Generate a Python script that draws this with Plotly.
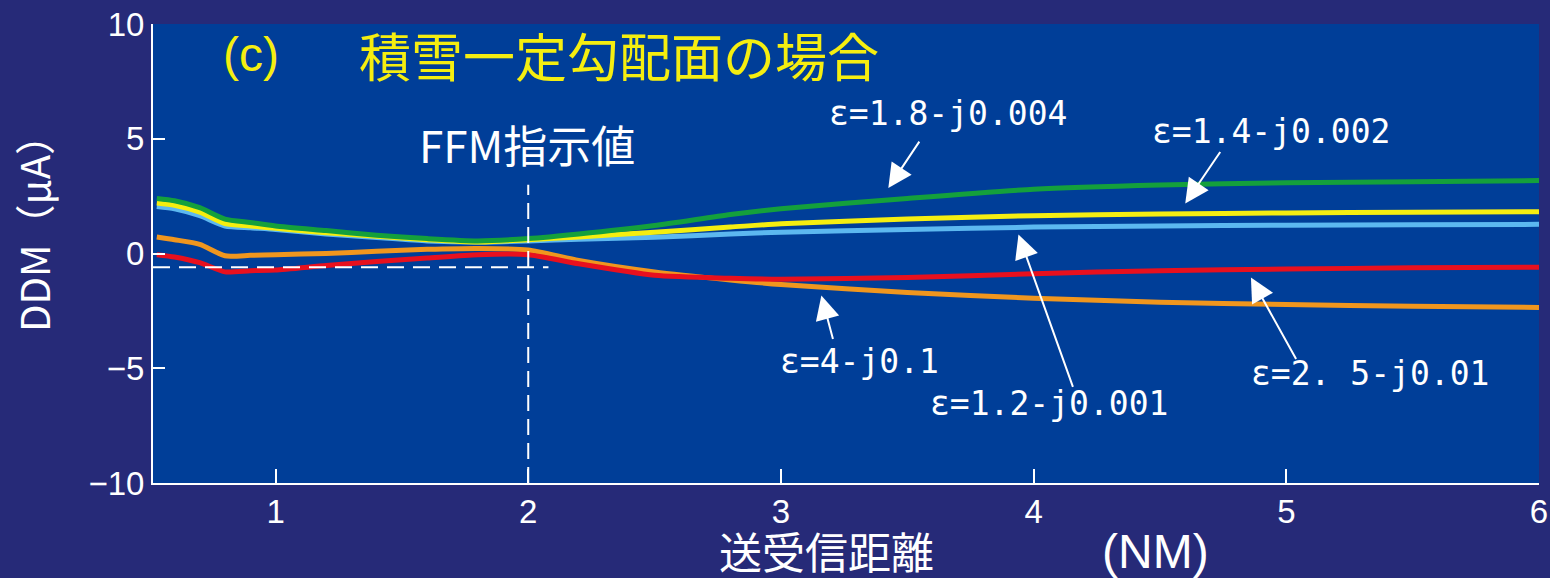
import plotly.graph_objects as go

# Distance between transmitter and receiver (NM)
distance = [0.53, 0.6, 0.7, 0.8, 0.9, 1.0, 1.2, 1.4, 1.6, 1.8, 2.0, 2.2, 2.5, 2.8,
            3.0, 3.5, 4.0, 4.5, 5.0, 5.5, 6.0]

# DDM (uA) for each snow permittivity
ddm_eps_1_8 = [2.4, 2.3, 2.0, 1.5, 1.35, 1.2, 1.0, 0.8, 0.65, 0.55, 0.65, 0.85, 1.22, 1.7,
               1.95, 2.4, 2.8, 2.98, 3.08, 3.13, 3.18]
ddm_eps_1_4 = [2.2, 2.1, 1.8, 1.3, 1.2, 1.1, 0.9, 0.75, 0.6, 0.5, 0.6, 0.72, 0.93, 1.15,
               1.3, 1.5, 1.65, 1.72, 1.77, 1.8, 1.82]
ddm_eps_1_2 = [2.05, 1.95, 1.65, 1.2, 1.12, 1.05, 0.85, 0.7, 0.55, 0.5, 0.55, 0.62, 0.71, 0.85,
               0.93, 1.05, 1.15, 1.2, 1.23, 1.25, 1.27]
ddm_eps_2_5 = [-0.05, -0.15, -0.4, -0.8, -0.75, -0.72, -0.52, -0.35, -0.2, -0.05, -0.05, -0.45, -0.95, -1.08,
               -1.12, -1.05, -0.88, -0.75, -0.68, -0.62, -0.6]
ddm_eps_4 = [0.72, 0.6, 0.4, -0.1, -0.08, -0.05, 0.0, 0.1, 0.18, 0.22, 0.15, -0.3, -0.8, -1.15,
             -1.35, -1.7, -1.95, -2.12, -2.22, -2.3, -2.35]

series_names = ["ε=4-j0.1", "ε=2.5-j0.01", "ε=1.2-j0.001", "ε=1.4-j0.002", "ε=1.8-j0.004"]
series_values = [ddm_eps_4, ddm_eps_2_5, ddm_eps_1_2, ddm_eps_1_4, ddm_eps_1_8]
series_colors = ["#F0961E", "#E8101E", "#5CB8F0", "#F5EE10", "#14A03C"]

# FFM indicated value marker
ffm_distance = 2.0
ffm_ddm = -0.6
ffm_top = 3.0
ffm_right = 2.08

x_ticks = [1, 2, 3, 4, 5, 6]
y_ticks = [-10, -5, 0, 5, 10]
x_range = [0.515, 6.0]
y_range = [-10, 10]

# Label text positions (data units) and arrow tip / tail offsets (px)
label_text = ["ε=1.8-j0.004", "ε=1.4-j0.002", "ε=4-j0.1", "ε=1.2-j0.001", "ε=2. 5-j0.01"]
label_x = [3.66, 4.94, 3.31, 4.06, 5.33]
label_y = [6.1, 5.3, -4.7, -6.55, -5.25]
arrow_x = [3.425, 4.60, 3.16, 3.94, 4.86]
arrow_y = [2.85, 2.18, -1.83, 0.83, -1.05]
arrow_ax = [32, 36, 12, 55, 46]
arrow_ay = [-48, -53, 45, 154, 83]

PLOT_BG = "#003E98"
PAGE_BG = "#262A78"
JP_FONT = "Noto Sans CJK JP"
NUM_FONT = "Liberation Sans, Arial, sans-serif"
AXIS_TITLE_FONT = "Liberation Sans, Noto Sans CJK JP, sans-serif"

fig = go.Figure()

for name, vals, col in zip(series_names, series_values, series_colors):
    fig.add_trace(go.Scatter(
        x=distance, y=vals, mode="lines", name=name,
        line=dict(color=col, width=5, shape="spline", smoothing=0.6),
        hoverinfo="skip",
    ))

# Dashed guide lines for the FFM indication
fig.add_shape(type="line", x0=ffm_distance, x1=ffm_distance, y0=y_range[0], y1=ffm_top,
              line=dict(color="white", width=2, dash="16px,8px"))
fig.add_shape(type="line", x0=x_range[0], x1=ffm_right, y0=ffm_ddm, y1=ffm_ddm,
              line=dict(color="white", width=2, dash="17px,9px"))

annotations = []
for t, lx, ly in zip(label_text, label_x, label_y):
    annotations.append(dict(x=lx, y=ly, xref="x", yref="y", text=t, showarrow=False,
                            font=dict(family="DejaVu Sans Mono", size=33, color="white"),
                            xanchor="center", yanchor="middle"))
for hx, hy, axp, ayp in zip(arrow_x, arrow_y, arrow_ax, arrow_ay):
    annotations.append(dict(x=hx, y=hy, xref="x", yref="y", text="", showarrow=True,
                            ax=axp, ay=ayp, arrowhead=2, arrowsize=2.4, arrowwidth=2,
                            arrowcolor="white", standoff=0))

# Panel title, indicator label and axis titles (placed in pixels)
annotations.append(dict(x=251, y=54, text="(c)", showarrow=False,
                        font=dict(family=NUM_FONT, size=48, color="#F5EE10")))
annotations.append(dict(x=619, y=54, text="積雪一定勾配面の場合", showarrow=False,
                        font=dict(family=JP_FONT, size=52, color="#F5EE10")))
annotations.append(dict(x=527, y=144, text="FFM指示値", showarrow=False,
                        font=dict(family=JP_FONT, size=44, color="white")))
annotations.append(dict(x=33, y=224, text="DDM（μA）", showarrow=False, textangle=-90,
                        font=dict(family=JP_FONT, size=40, color="white")))
annotations.append(dict(x=826, y=554, text="送受信距離", showarrow=False,
                        font=dict(family=AXIS_TITLE_FONT, size=43, color="white")))
annotations.append(dict(x=1155, y=551, text="(NM)", showarrow=False,
                        font=dict(family=AXIS_TITLE_FONT, size=48, color="white")))

W, H = 1550, 578
M = dict(l=153, r=11, t=24, b=95)
pw = W - M["l"] - M["r"]
ph = H - M["t"] - M["b"]
# Pixel-placed annotations are converted to paper coordinates
for a in annotations:
    if a.get("xref") != "x":
        a["x"] = (a["x"] - M["l"]) / pw
        a["y"] = 1 - (a["y"] - M["t"]) / ph
        a["xref"] = "paper"
        a["yref"] = "paper"
        a["xanchor"] = "center"
        a["yanchor"] = "middle"

fig.update_layout(
    width=W, height=H, margin=M,
    paper_bgcolor=PAGE_BG, plot_bgcolor=PLOT_BG,
    showlegend=False, annotations=annotations,
    xaxis=dict(range=x_range, tickvals=x_ticks, showgrid=False, zeroline=False,
               automargin=False,
               showline=True, linecolor="white", linewidth=2,
               ticks="inside", ticklen=14, tickwidth=2, tickcolor="white",
               tickfont=dict(family=NUM_FONT, size=33, color="white"),
               ticklabelstandoff=-2),
    yaxis=dict(range=y_range, tickvals=y_ticks, showgrid=False, zeroline=False,
               automargin=False,
               showline=True, linecolor="white", linewidth=2,
               ticks="inside", ticklen=12, tickwidth=2, tickcolor="white",
               tickfont=dict(family=NUM_FONT, size=33, color="white")),
)

fig.write_html("out.html")
